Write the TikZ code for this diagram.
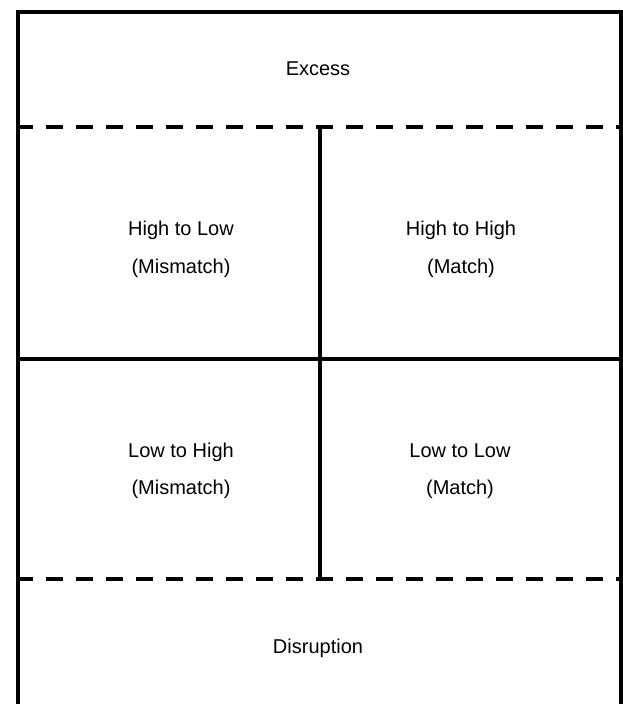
\documentclass[tikz,border=0pt]{standalone}
\usepackage{fontspec}
\setmainfont{Liberation Sans}
\usetikzlibrary{positioning}

\begin{document}
\begin{tikzpicture}[x=1pt,y=-1pt,
  wall/.style={line width=4pt},
  cut/.style={line width=4pt,dash pattern=on 17pt off 13pt,dash phase=2pt},
  lbl/.style={anchor=base,inner sep=0pt,font=\fontsize{20pt}{24pt}\selectfont}]
  \useasboundingbox (0,0) rectangle (623,704);
  \draw[wall] (18,704) -- (18,12) -- (621,12) -- (621,704) ; %Draw outer frame, open at bottom
  \draw[cut] (18,127) -- (621,127) ;  %Draw upper dashed limit
  \draw[cut] (18,579) -- (621,579) ;  %Draw lower dashed limit
  \draw[wall] (18,359) -- (621,359) ; %Draw middle line
  \draw[wall] (320,127) -- (320,579) ; %Draw centre line
  \node[lbl] (excess)   at (318,75)  {Excess};
  \node[lbl] (hilo)     at (181,235) {High to Low};
  \node[lbl] (hilotag)  at (181,273) {(Mismatch)};
  \node[lbl] (hihi)     at (461,235) {High to High};
  \node[lbl] (hihitag)  at (461,273) {(Match)};
  \node[lbl] (lohi)     at (181,457) {Low to High};
  \node[lbl] (lohitag)  at (181,494) {(Mismatch)};
  \node[lbl] (lolo)     at (460,457) {Low to Low};
  \node[lbl] (lolotag)  at (460,494) {(Match)};
  \node[lbl] (disrupt)  at (318,653) {Disruption};
\end{tikzpicture}
\end{document}
